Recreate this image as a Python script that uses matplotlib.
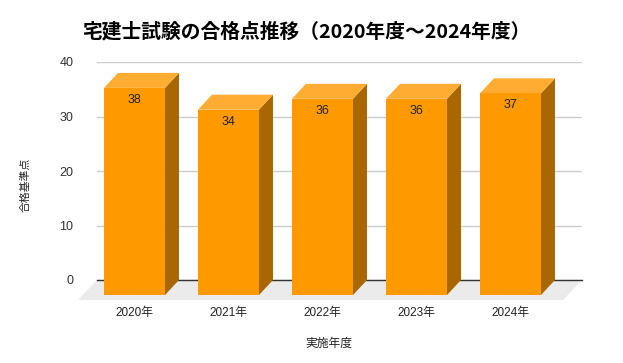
import matplotlib
matplotlib.use("Agg")
import matplotlib.pyplot as plt
from matplotlib.patches import Polygon

plt.rcParams['font.family'] = ['Liberation Sans', 'Noto Sans CJK JP', 'DejaVu Sans']

title = "宅建士試験の合格点推移（2020年度～2024年度）"
categories = ["2020年", "2021年", "2022年", "2023年", "2024年"]
values = [38, 34, 36, 36, 37]
y_ticks = [0, 10, 20, 30, 40]
x_title = "実施年度"
y_title = "合格基準点"

FRONT = "#FF9900"
TOP = "#FFAC33"
SIDE = "#A96700"
FLOOR = "#EBEBEB"

W, H = 623, 363
fig = plt.figure(figsize=(W / 100, H / 100), dpi=100)
ax_l, ax_r, ax_b, ax_t = 97, 582, 280, 62
ax = fig.add_axes([ax_l / W, (H - ax_b) / H, (ax_r - ax_l) / W, (ax_b - ax_t) / H])
xmin, xmax = -0.548, 4.612
ax.set_xlim(xmin, xmax)
ax.set_ylim(0, 40)

px_x = (ax_r - ax_l) / (xmax - xmin)   # pixels per x unit
px_y = (ax_b - ax_t) / 40.0            # pixels per y unit

# depth offsets (pixels) converted to data units
bdx, bdy = -14 / px_x, -15 / px_y     # bar front face offset
fdx, fdy = -19 / px_x, -20 / px_y     # floor front edge offset

for s in ax.spines.values():
    s.set_visible(False)
ax.set_xticks([])
ax.set_yticks(y_ticks)
ax.tick_params(axis='y', length=0, pad=17, labelsize=9, labelcolor="#333333")
ax.grid(axis='y', color="#CCCCCC", linewidth=1)
ax.set_axisbelow(True)

# floor
floor = Polygon([(xmin, 0), (xmax, 0), (xmax + fdx, fdy), (xmin + fdx, fdy)],
                closed=True, facecolor=FLOOR, edgecolor='none', clip_on=False, zorder=1)
ax.add_patch(floor)
ax.plot([xmin, xmax], [0, 0], color="#333333", linewidth=1, zorder=1.5, clip_on=False)

bw = 61 / px_x
for i, v in enumerate(values):
    xc = i
    l, r = xc - bw / 2, xc + bw / 2
    front = [(l + bdx, bdy), (r + bdx, bdy), (r + bdx, v + bdy), (l + bdx, v + bdy)]
    top = [(l + bdx, v + bdy), (r + bdx, v + bdy), (r, v), (l, v)]
    side = [(r + bdx, bdy), (r, 0), (r, v), (r + bdx, v + bdy)]
    ax.add_patch(Polygon(side, closed=True, facecolor=SIDE, edgecolor='none', clip_on=False, zorder=2))
    ax.add_patch(Polygon(top, closed=True, facecolor=TOP, edgecolor='none', clip_on=False, zorder=2))
    ax.add_patch(Polygon(front, closed=True, facecolor=FRONT, edgecolor='none', clip_on=False, zorder=2))
    ax.annotate(str(v), xy=(xc + bdx, v + bdy), xytext=(0, -12), textcoords='offset pixels',
                ha='center', va='center', fontsize=9, color="#222222", zorder=3,
                annotation_clip=False)
    ax.annotate(categories[i], xy=(xc + bdx, 0), xytext=(0, -33), textcoords='offset pixels',
                ha='center', va='center', fontsize=8.5, color="#222222", annotation_clip=False)

fig.text(82 / W, 1 - 32 / H, title, ha='left', va='center', fontsize=14.2,
         fontweight='bold', color="#000000", family=['Noto Sans CJK JP', 'DejaVu Sans'])
fig.text(329 / W, 1 - 344 / H, x_title, ha='center', va='center', fontsize=8.5, color="#222222")
fig.text(25 / W, 1 - 185 / H, y_title, ha='center', va='center', fontsize=7.8,
         rotation=90, color="#222222")

fig.savefig("out.png", dpi=100, facecolor="white")
